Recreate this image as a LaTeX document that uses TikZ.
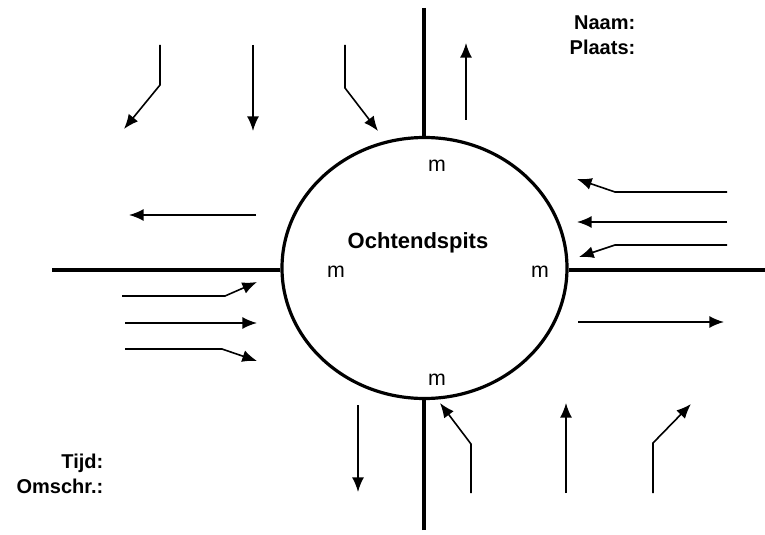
\documentclass[tikz,border=0pt]{standalone}
\usepackage{fontspec}
\setmainfont{Liberation Sans}
\usetikzlibrary{arrows.meta,shapes.geometric}
\begin{document}
\begin{tikzpicture}[x=0.75pt,y=-0.75pt,
  road/.style={line width=2.4pt},
  flow/.style={line width=1.2pt,-{Latex[length=11pt,width=9pt]}},
  lbl/.style={font=\fontsize{15}{17}\selectfont\bfseries},
  mlbl/.style={font=\fontsize{16}{18}\selectfont}]
\useasboundingbox (0,0) rectangle (765,535);
% roundabout
\node[road,draw,ellipse,minimum width=285*0.75pt,minimum height=261*0.75pt,inner sep=0pt] (rb) at (424.5,268) {};
\node[font=\fontsize{16.5}{18}\selectfont\bfseries] (title) at (418,243) {Ochtendspits};
% roads
\coordinate (nt) at (424,8);
\coordinate (sb) at (424,530);
\coordinate (wl) at (52,270);
\coordinate (er) at (765,270);
\draw[road] (nt) -- (nt |- rb.north);
\draw[road] (sb) -- (sb |- rb.south);
\draw[road] (wl) -- (wl -| rb.west);
\draw[road] (er) -- (er -| rb.east);
% m labels
\node[mlbl] (mn) at (437,166) {m};
\node[mlbl] (mw) at (336,272) {m};
\node[mlbl] (me) at (540,272) {m};
\node[mlbl] (ms) at (437,380) {m};
% text labels
\node[lbl,anchor=east] (naam) at (640,23) {Naam:};
\node[lbl,anchor=east] (plaats) at (640,47) {Plaats:};
\node[lbl,anchor=east] (tijd) at (108,463) {Tijd:};
\node[lbl,anchor=east] (omschr) at (108,486) {Omschr.:};
% north approach (incoming)
\coordinate (a1s) at (160,45); \coordinate (a1b) at (160,85); \coordinate (a1e) at (124,129);
\draw[flow] (a1s) -- (a1b) -- (a1e);
\coordinate (a2s) at (253,45); \coordinate (a2e) at (253,131);
\draw[flow] (a2s) -- (a2e);
\coordinate (a3s) at (345,45); \coordinate (a3b) at (345,88); \coordinate (a3e) at (378,131);
\draw[flow] (a3s) -- (a3b) -- (a3e);
% north exit
\coordinate (a4s) at (466,120); \coordinate (a4e) at (466,43);
\draw[flow] (a4s) -- (a4e);
% west exit
\coordinate (a5s) at (256,215); \coordinate (a5e) at (129,215);
\draw[flow] (a5s) -- (a5e);
% east approach (incoming)
\coordinate (b1s) at (727,192); \coordinate (b1b) at (615,192); \coordinate (b1e) at (577,179);
\draw[flow] (b1s) -- (b1b) -- (b1e);
\coordinate (b2s) at (727,222); \coordinate (b2e) at (577,222);
\draw[flow] (b2s) -- (b2e);
\coordinate (b3s) at (727,245); \coordinate (b3b) at (615,245); \coordinate (b3e) at (579,257);
\draw[flow] (b3s) -- (b3b) -- (b3e);
% east exit
\coordinate (b4s) at (578,322); \coordinate (b4e) at (724,322);
\draw[flow] (b4s) -- (b4e);
% west approach (incoming)
\coordinate (c1s) at (122,296); \coordinate (c1b) at (225,296); \coordinate (c1e) at (257,282);
\draw[flow] (c1s) -- (c1b) -- (c1e);
\coordinate (c2s) at (125,323); \coordinate (c2e) at (257,323);
\draw[flow] (c2s) -- (c2e);
\coordinate (c3s) at (125,349); \coordinate (c3b) at (222,349); \coordinate (c3e) at (257,361);
\draw[flow] (c3s) -- (c3b) -- (c3e);
% south exit
\coordinate (d4s) at (358,405); \coordinate (d4e) at (358,492);
\draw[flow] (d4s) -- (d4e);
% south approach (incoming)
\coordinate (d1s) at (471,493); \coordinate (d1b) at (471,444); \coordinate (d1e) at (440,403);
\draw[flow] (d1s) -- (d1b) -- (d1e);
\coordinate (d2s) at (566,493); \coordinate (d2e) at (566,403);
\draw[flow] (d2s) -- (d2e);
\coordinate (d3s) at (653,493); \coordinate (d3b) at (653,443); \coordinate (d3e) at (691,404);
\draw[flow] (d3s) -- (d3b) -- (d3e);
\end{tikzpicture}
\end{document}
